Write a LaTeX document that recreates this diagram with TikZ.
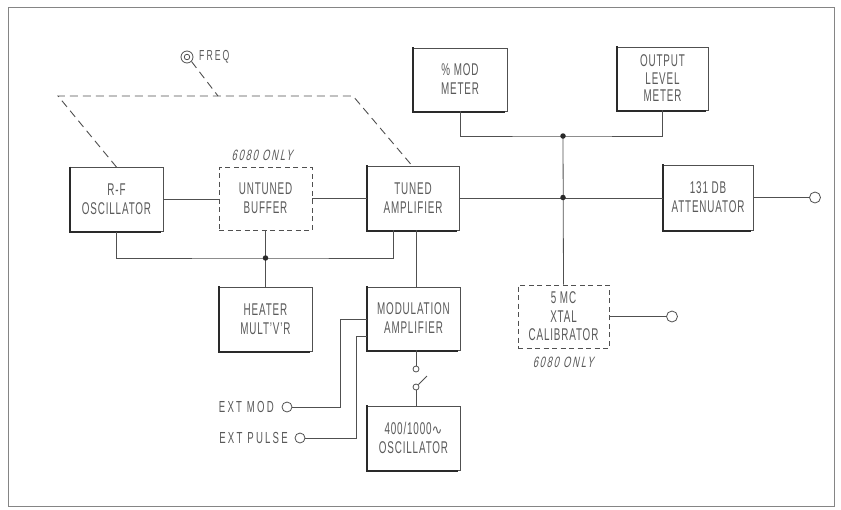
\documentclass[tikz,border=0pt]{standalone}
\usepackage{fontspec}
\setmainfont{Liberation Sans}[FakeStretch=0.58,LetterSpace=5]
\newfontfamily\slfont{Liberation Sans}[FakeStretch=0.62,FakeSlant=0.22,LetterSpace=12]
\newfontfamily\lblfont{Liberation Sans}[FakeStretch=0.6,LetterSpace=14]
\newfontfamily\symfont{DejaVu Sans}
\definecolor{ink}{HTML}{505050}
\definecolor{txt}{HTML}{5A5A5A}
\definecolor{shade}{HTML}{2A2A2A}
\tikzset{
  blk/.style={draw=ink, line width=0.8pt, fill=white, rectangle, align=center,
    text=txt, font=\fontsize{17}{19}\selectfont, inner sep=0pt},
  dblk/.style={blk, dash pattern=on 5pt off 3.5pt},
  wire/.style={draw=ink, line width=0.8pt},
  dwire/.style={draw=ink, line width=0.9pt, dash pattern=on 8pt off 5pt},
  shadowline/.style={draw=shade, line width=2.2pt},
  jdot/.style={circle, fill=shade, inner sep=0pt, minimum size=5.5pt},
  term/.style={circle, draw=ink, line width=0.8pt, fill=white, inner sep=0pt, minimum size=11pt},
  sw/.style={circle, draw=ink, line width=0.8pt, fill=white, inner sep=0pt, minimum size=6pt},
  lbl/.style={text=txt, font=\lblfont\fontsize{16}{18}\selectfont, inner sep=0pt},
  onlylbl/.style={text=txt, font=\slfont\fontsize{15}{17}\selectfont, inner sep=0pt}
}
\begin{document}
\begin{tikzpicture}[x=1pt,y=-1pt]
\useasboundingbox (0,0) rectangle (841,509);
\fill[white] (0,0) rectangle (841,509);
\draw[ink!70, line width=1pt] (8,7) rectangle (834,506);

% blocks
\node[blk, minimum width=93pt, minimum height=64pt] (rf) at (116.5,199.5) {R-F\\OSCILLATOR};
\node[dblk, minimum width=93pt, minimum height=63pt] (buf) at (265.5,198.5) {UNTUNED\\BUFFER};
\node[blk, minimum width=92pt, minimum height=64pt] (tuned) at (413,198) {TUNED\\AMPLIFIER};
\node[blk, minimum width=94pt, minimum height=63pt] (pmod) at (460,79.5) {\% MOD\\METER};
\node[blk, minimum width=91pt, minimum height=63pt, font=\fontsize{17}{17.5}\selectfont] (olm) at (662.5,78.5) {OUTPUT\\LEVEL\\METER};
\node[blk, minimum width=90pt, minimum height=65pt] (att) at (708,197.5) {131 DB\\ATTENUATOR};
\node[dblk, minimum width=91pt, minimum height=63pt, font=\fontsize{17}{18.5}\selectfont] (xtal) at (563.5,316.5) {5 MC\\XTAL\\CALIBRATOR};
\node[blk, minimum width=93pt, minimum height=64pt] (heat) at (265.5,319) {HEATER\\MULT'V'R};
\node[blk, minimum width=93pt, minimum height=63pt] (modamp) at (413.5,318.5) {MODULATION\\AMPLIFIER};
\node[blk, minimum width=93pt, minimum height=64pt] (osc) at (413.5,438) {400/1000{\symfont\fontsize{13}{14}\selectfont ∿}\\OSCILLATOR};

% shadows (left and bottom edges)
\foreach \n in {rf,tuned,pmod,olm,att,heat,modamp,osc}{
  \draw[shadowline] ([xshift=0.4pt,yshift=0.6pt]\n.north west) -- ([xshift=0.4pt,yshift=-0.4pt]\n.south west) -- ([xshift=-2pt,yshift=-0.4pt]\n.south east);
}

% labels
\node[onlylbl] (only1) at (262,155) {6080 ONLY};
\node[onlylbl] (only2) at (563,362) {6080 ONLY};

% terminals
\node[term] (c1) at (815,197.5) {};
\node[term] (c2) at (672,316.5) {};
\node[term, minimum size=10pt] (em) at (287,407) {};
\node[term, minimum size=10pt] (ep) at (300,438) {};
\node[lbl, anchor=east] (emt) at (274,407) {EXT MOD};
\node[lbl, anchor=east] (ept) at (288,438) {EXT PULSE};

% freq knob
\node[circle, draw=ink, line width=0.8pt, inner sep=0pt, minimum size=12pt] (fq) at (187,57) {};
\node[circle, draw=ink, line width=0.8pt, inner sep=0pt, minimum size=5.5pt] (fqi) at (187,57) {};
\node[lbl, anchor=west, font=\lblfont\fontsize{14.5}{16}\selectfont] (fqt) at (199,57) {FREQ};

% coordinates
\coordinate (j1) at (563,136);
\coordinate (j2) at (563,197.5);
\coordinate (jb) at (265.5,258);
\coordinate (d1) at (58,96);
\coordinate (d2) at (353,96);
\coordinate (dm) at (218,96);
\coordinate (k1) at (340,319);
\coordinate (k2) at (356,336);
\coordinate (tl) at (393,258);

% main signal path
\draw[wire] (rf.east) -- (rf.east -| buf.west);
\draw[wire] (buf.east) -- (buf.east -| tuned.west);
\draw[wire] (tuned.east) -- (tuned.east -| att.west);
\draw[wire] (att.east) -- (c1.west);

% meter bus
\draw[wire] (pmod.south) |- (j1) -| (olm.south);
\draw[wire] (j1) -- (xtal.north);
\draw[wire] (xtal.east) -- (c2.west);

% heater bus
\draw[wire] (rf.south) |- (jb) -- (tl) -- (tl |- tuned.south);
\draw[wire] (buf.south) -- (jb) -- (heat.north);

% modulation
\draw[wire] ([xshift=3pt]tuned.south) -- ([xshift=3pt]tuned.south |- modamp.north);
\node[sw] (s1) at (416,369) {};
\node[sw] (s2) at (416,387) {};
\coordinate (lev) at (427,376);
\draw[wire] ([xshift=2.5pt]modamp.south) -- (s1.north);
\draw[wire] (s2.north east) -- (lev);
\draw[wire] (s2.south) -- ([xshift=2.5pt]osc.north);
\draw[wire] (em.east) -| (k1) -- (k1 -| modamp.west);
\draw[wire] (ep.east) -| (k2) -- (k2 -| modamp.west);

% dashed ganged tuning
\draw[dwire] (rf.north) -- (d1) -- (d2) -- ([xshift=-1pt]tuned.north);
\draw[dwire] (fq.south east) -- (dm);

% junction dots
\node[jdot] (jd1) at (j1) {};
\node[jdot] (jd2) at (j2) {};
\node[jdot] (jd3) at (jb) {};
\end{tikzpicture}
\end{document}
